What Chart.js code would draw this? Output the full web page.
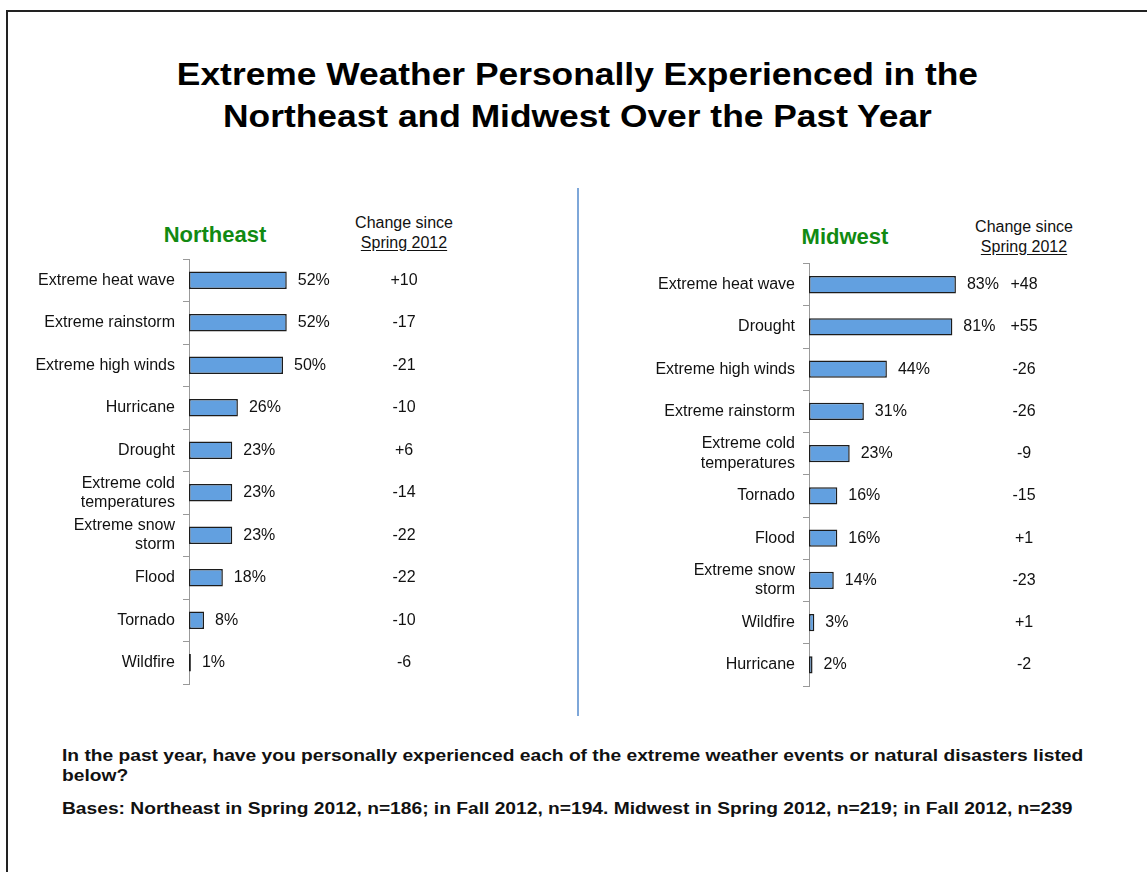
<!DOCTYPE html>
<html>
<head>
<meta charset="utf-8">
<script src="https://cdn.jsdelivr.net/npm/chart.js@4.4.1/dist/chart.umd.min.js"></script>
<style>
  body { margin: 0; width: 1147px; height: 872px; background: #fff; position: relative; overflow: hidden;
         font-family: "Liberation Sans", Arial, sans-serif; color: #111; }
  .frame { position: absolute; left: 6px; top: 10px; width: 1200px; height: 900px;
           border-top: 2px solid #222; border-left: 2px solid #222; }
  .title { position: absolute; left: 0; width: 1155px; top: 53px; text-align: center;
           font-weight: bold; font-size: 32px; line-height: 42px; color: #000;
           transform: scaleX(1.105); transform-origin: 578px 0; }
  .hdr { position: absolute; transform: translateX(-50%); font-weight: bold; font-size: 22px; color: #128a12; white-space: nowrap; }
  .chg { position: absolute; transform: translateX(-50%); font-size: 16px; line-height: 20px; text-align: center; color: #111; white-space: nowrap; }
  .chg u { text-underline-offset: 2px; }
  .divider { position: absolute; left: 577px; top: 188px; width: 2px; height: 528px; background: #7ea7d9; }
  .note { position: absolute; left: 62px; font-weight: bold; font-size: 16px; line-height: 20px; color: #111;
          white-space: nowrap; transform: scaleX(1.2); transform-origin: 0 0; }
  canvas { position: absolute; }
</style>
</head>
<body>
<div class="frame"></div>
<div class="title">Extreme Weather Personally Experienced in the<br>Northeast and Midwest Over the Past Year</div>

<div class="hdr" style="left:215px; top:222px;">Northeast</div>
<div class="chg" style="left:404px; top:213px;">Change since<br><u>Spring 2012</u></div>
<div class="hdr" style="left:845px; top:224px;">Midwest</div>
<div class="chg" style="left:1024px; top:217px;">Change since<br><u>Spring 2012</u></div>

<div class="divider"></div>

<div style="position:absolute; left:20px; top:241px; width:560px; height:461px;"><canvas id="neChart"></canvas></div>
<div style="position:absolute; left:640px; top:246px; width:500px; height:461px;"><canvas id="mwChart"></canvas></div>

<div class="note" style="top:746px;">In the past year, have you personally experienced each of the extreme weather events or natural disasters listed<br>below?</div>
<div class="note" style="top:799px;">Bases: Northeast in Spring 2012, n=186; in Fall 2012, n=194. Midwest in Spring 2012, n=219; in Fall 2012, n=239</div>

<script>
// Northeast
const neCategories = ['Extreme heat wave', 'Extreme rainstorm', 'Extreme high winds', 'Hurricane', 'Drought',
    ['Extreme cold', 'temperatures'], ['Extreme snow', 'storm'], 'Flood', 'Tornado', 'Wildfire'];
const neValues = [52, 52, 50, 26, 23, 23, 23, 18, 8, 1];
const neChange = ['+10', '-17', '-21', '-10', '+6', '-14', '-22', '-22', '-10', '-6'];

// Midwest
const mwCategories = ['Extreme heat wave', 'Drought', 'Extreme high winds', 'Extreme rainstorm',
    ['Extreme cold', 'temperatures'], 'Tornado', 'Flood', ['Extreme snow', 'storm'], 'Wildfire', 'Hurricane'];
const mwValues = [83, 81, 44, 31, 23, 16, 16, 14, 3, 2];
const mwChange = ['+48', '+55', '-26', '-26', '-9', '-15', '+1', '-23', '+1', '-2'];

const FONT = '"Liberation Sans", Arial, sans-serif';

// draws the % labels next to bars and the "change since" column
const labelsPlugin = {
    id: 'barLabels',
    afterDatasetsDraw(chart, args, opts) {
        const ctx = chart.ctx;
        const meta = chart.getDatasetMeta(0);
        const values = chart.data.datasets[0].data;
        ctx.save();
        ctx.font = '16px ' + FONT;
        ctx.fillStyle = '#111';
        ctx.textBaseline = 'middle';
        meta.data.forEach(function(bar, i) {
            ctx.textAlign = 'left';
            ctx.fillText(values[i] + '%', bar.x + 11, bar.y);
            ctx.textAlign = 'center';
            ctx.fillText(opts.change[i], opts.changeX, bar.y);
        });
        ctx.restore();
    }
};

function makeChart(id, labels, values, change, pad) {
    new Chart(document.getElementById(id), {
        type: 'bar',
        data: {
            labels: labels,
            datasets: [{
                data: values,
                backgroundColor: '#62a0e0',
                borderColor: '#1c1c1c',
                borderWidth: 1.5,
                borderSkipped: false,
                barPercentage: 0.41,
                categoryPercentage: 1
            }]
        },
        plugins: [labelsPlugin],
        options: {
            indexAxis: 'y',
            responsive: true,
            maintainAspectRatio: false,
            animation: false,
            layout: { padding: pad },
            plugins: {
                legend: { display: false },
                tooltip: { enabled: false },
                barLabels: { change: change, changeX: 384 }
            },
            scales: {
                x: { display: false, min: 0, max: 100 },
                y: {
                    grid: { drawOnChartArea: false, tickLength: 6, color: '#999', offset: true },
                    border: { color: '#999', width: 1 },
                    ticks: { font: { family: FONT, size: 16 }, color: '#111', padding: 8, autoSkip: false },
                    afterFit: function(scale) { scale.width = 169; }
                }
            }
        }
    });
}

makeChart('neChart', neCategories, neValues, neChange, { top: 18, bottom: 18, left: 0, right: 203 });
makeChart('mwChart', mwCategories, mwValues, mwChange, { top: 17, bottom: 21, left: 0, right: 154 });
</script>
</body>
</html>
